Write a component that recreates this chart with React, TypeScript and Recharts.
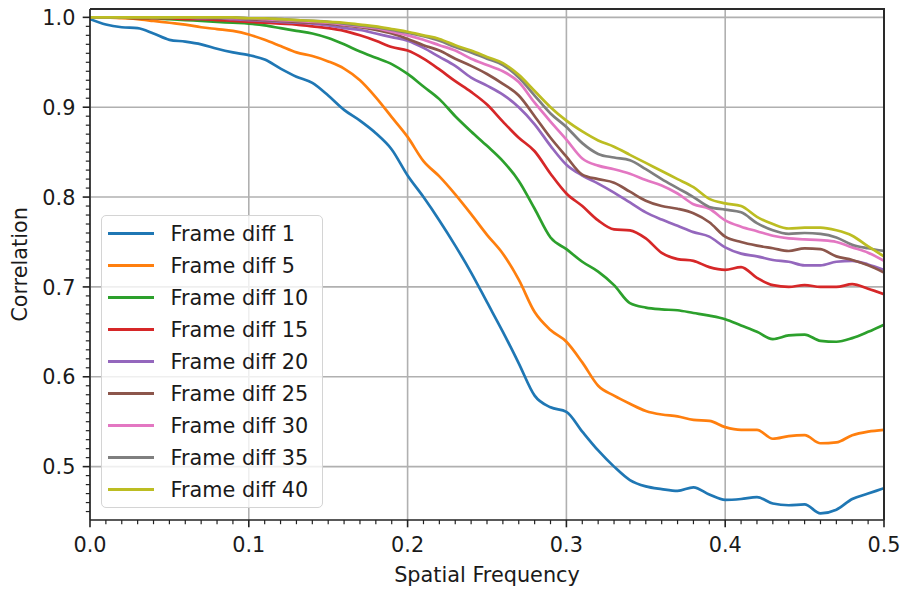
import React from 'react'
import { LineChart, Line, XAxis, YAxis, CartesianGrid, Legend, ReferenceLine } from 'recharts'

const freq = [
    0.0, 0.01, 0.02, 0.03, 0.04, 0.05, 0.06, 0.07, 0.08, 0.09,
    0.1, 0.11, 0.12, 0.13, 0.14, 0.15, 0.16, 0.17, 0.18, 0.19,
    0.2, 0.21, 0.22, 0.23, 0.24, 0.25, 0.26, 0.27, 0.28, 0.29,
    0.3, 0.31, 0.32, 0.33, 0.34, 0.35, 0.36, 0.37, 0.38, 0.39,
    0.4, 0.41, 0.42, 0.43, 0.44, 0.45, 0.46, 0.47, 0.48, 0.49, 0.5
]

const diff1 = [
    0.998, 0.992, 0.989, 0.988, 0.982, 0.975, 0.973, 0.970, 0.965, 0.961,
    0.958, 0.953, 0.943, 0.934, 0.927, 0.913, 0.897, 0.885, 0.871, 0.853,
    0.824, 0.800, 0.774, 0.746, 0.716, 0.683, 0.650, 0.615, 0.579, 0.566,
    0.561, 0.539, 0.518, 0.500, 0.485, 0.478, 0.475, 0.473, 0.477, 0.469,
    0.463, 0.464, 0.466, 0.459, 0.457, 0.458, 0.448, 0.452, 0.464, 0.470, 0.476
]
const diff5 = [
    1.000, 1.000, 0.999, 0.998, 0.996, 0.994, 0.992, 0.989, 0.987, 0.985,
    0.981, 0.975, 0.968, 0.961, 0.957, 0.951, 0.943, 0.930, 0.911, 0.889,
    0.867, 0.840, 0.823, 0.803, 0.781, 0.758, 0.737, 0.708, 0.672, 0.652,
    0.639, 0.616, 0.590, 0.579, 0.570, 0.562, 0.558, 0.556, 0.552, 0.551,
    0.544, 0.541, 0.541, 0.531, 0.534, 0.535, 0.526, 0.527, 0.535, 0.539, 0.541
]
const diff10 = [
    1.000, 1.000, 1.000, 0.999, 0.999, 0.998, 0.997, 0.996, 0.995, 0.994,
    0.993, 0.991, 0.988, 0.985, 0.982, 0.977, 0.970, 0.962, 0.955, 0.948,
    0.937, 0.923, 0.909, 0.890, 0.873, 0.857, 0.840, 0.818, 0.787, 0.755,
    0.742, 0.728, 0.717, 0.702, 0.682, 0.677, 0.675, 0.674, 0.671, 0.668,
    0.664, 0.657, 0.650, 0.642, 0.646, 0.647, 0.640, 0.639, 0.643, 0.650, 0.658
]
const diff15 = [
    1.000, 1.000, 1.000, 0.999, 0.999, 0.999, 0.998, 0.998, 0.997, 0.996,
    0.995, 0.994, 0.993, 0.992, 0.990, 0.988, 0.985, 0.980, 0.974, 0.967,
    0.963, 0.954, 0.942, 0.929, 0.917, 0.903, 0.884, 0.866, 0.851, 0.826,
    0.804, 0.790, 0.774, 0.764, 0.763, 0.754, 0.738, 0.731, 0.729, 0.722,
    0.719, 0.722, 0.710, 0.702, 0.700, 0.702, 0.700, 0.700, 0.703, 0.698, 0.692
]
const diff20 = [
    1.000, 1.000, 1.000, 1.000, 1.000, 1.000, 1.000, 0.999, 0.999, 0.998,
    0.997, 0.996, 0.995, 0.994, 0.993, 0.991, 0.988, 0.986, 0.982, 0.978,
    0.974, 0.966, 0.956, 0.946, 0.933, 0.924, 0.914, 0.900, 0.881, 0.857,
    0.836, 0.824, 0.815, 0.805, 0.794, 0.783, 0.775, 0.768, 0.761, 0.756,
    0.744, 0.737, 0.734, 0.730, 0.728, 0.724, 0.724, 0.728, 0.729, 0.725, 0.719
]
const diff25 = [
    1.000, 1.000, 1.000, 1.000, 1.000, 1.000, 1.000, 1.000, 0.999, 0.999,
    0.998, 0.997, 0.996, 0.995, 0.994, 0.993, 0.991, 0.989, 0.986, 0.982,
    0.976, 0.969, 0.963, 0.954, 0.946, 0.937, 0.926, 0.913, 0.890, 0.866,
    0.845, 0.825, 0.820, 0.816, 0.806, 0.796, 0.790, 0.787, 0.782, 0.772,
    0.756, 0.750, 0.746, 0.743, 0.740, 0.743, 0.742, 0.734, 0.730, 0.724, 0.716
]
const diff30 = [
    1.000, 1.000, 1.000, 1.000, 1.000, 1.000, 1.000, 1.000, 1.000, 0.999,
    0.999, 0.998, 0.997, 0.996, 0.995, 0.994, 0.992, 0.990, 0.988, 0.984,
    0.980, 0.975, 0.969, 0.963, 0.954, 0.947, 0.940, 0.928, 0.905, 0.884,
    0.864, 0.843, 0.835, 0.831, 0.826, 0.819, 0.813, 0.804, 0.792, 0.787,
    0.774, 0.767, 0.762, 0.757, 0.754, 0.753, 0.752, 0.750, 0.744, 0.738, 0.729
]
const diff35 = [
    1.000, 1.000, 1.000, 1.000, 1.000, 1.000, 1.000, 1.000, 1.000, 1.000,
    0.999, 0.999, 0.998, 0.997, 0.996, 0.995, 0.993, 0.991, 0.989, 0.986,
    0.983, 0.979, 0.974, 0.967, 0.961, 0.954, 0.947, 0.933, 0.913, 0.893,
    0.878, 0.860, 0.848, 0.844, 0.841, 0.831, 0.820, 0.810, 0.800, 0.789,
    0.786, 0.783, 0.771, 0.763, 0.759, 0.760, 0.759, 0.755, 0.747, 0.743, 0.740
]
const diff40 = [
    1.000, 1.000, 1.000, 1.000, 1.000, 1.000, 1.000, 1.000, 1.000, 1.000,
    0.999, 0.999, 0.998, 0.997, 0.996, 0.995, 0.994, 0.992, 0.990, 0.987,
    0.984, 0.980, 0.976, 0.969, 0.963, 0.956, 0.949, 0.936, 0.918, 0.900,
    0.885, 0.873, 0.863, 0.856, 0.847, 0.838, 0.829, 0.820, 0.811, 0.798,
    0.793, 0.790, 0.778, 0.770, 0.765, 0.766, 0.766, 0.763, 0.757, 0.745, 0.734
]

const seriesNames = [
    'Frame diff 1', 'Frame diff 5', 'Frame diff 10', 'Frame diff 15', 'Frame diff 20',
    'Frame diff 25', 'Frame diff 30', 'Frame diff 35', 'Frame diff 40'
]
const seriesValues = [diff1, diff5, diff10, diff15, diff20, diff25, diff30, diff35, diff40]
const seriesColors = [
    '#1f77b4', '#ff7f0e', '#2ca02c', '#d62728', '#9467bd',
    '#8c564b', '#e377c2', '#7f7f7f', '#bcbd22'
]

const xMajorTicks = [0, 0.1, 0.2, 0.3, 0.4, 0.5]
const yMajorTicks = [0.5, 0.6, 0.7, 0.8, 0.9, 1.0]
const xDomain = [0, 0.5]
const yDomain = [0.4406, 1.0093]

// minor ticks every 0.01
const xTicks = Array.from({ length: 51 }, (_, i) => i / 100)
const yTicks = Array.from({ length: 56 }, (_, i) => (45 + i) / 100)

const data = freq.map((f, i) => {
    const row: Record<string, number> = { freq: f }
    seriesNames.forEach((name, k) => { row[name] = seriesValues[k][i] })
    return row
})

const FONT = '"DejaVu Sans", sans-serif'
const TEXT = '#1a1a1a'
const AXIS = '#222'
const isMajor = (v: number) => Math.round(v * 100) % 10 === 0

const XTick = (props: any) => {
    const { x, y, payload } = props
    const major = isMajor(payload.value)
    return (
        <g>
            <line x1={x} x2={x} y1={y} y2={y + (major ? 7.3 : 4.2)} stroke={AXIS} strokeWidth={major ? 1.6 : 1.2} />
            {major && (
                <text x={x} y={y + 32} textAnchor="middle" fontSize={20.8} fontFamily={FONT} fill={TEXT}>
                    {payload.value.toFixed(1)}
                </text>
            )}
        </g>
    )
}

const YTick = (props: any) => {
    const { x, y, payload } = props
    const major = isMajor(payload.value)
    return (
        <g>
            <line x1={x - (major ? 7.3 : 4.2)} x2={x} y1={y} y2={y} stroke={AXIS} strokeWidth={major ? 1.6 : 1.2} />
            {major && (
                <text x={x - 14.6} y={y + 7.6} textAnchor="end" fontSize={20.8} fontFamily={FONT} fill={TEXT}>
                    {payload.value.toFixed(1)}
                </text>
            )}
        </g>
    )
}

const renderLegend = () => (
    <div
        style={{
            width: 222,
            height: 293,
            boxSizing: 'border-box',
            border: '1.5px solid #d4d4d4',
            borderRadius: 5,
            background: 'rgba(255,255,255,0.8)',
            paddingTop: 1.5
        }}
    >
        {seriesNames.map((name, i) => (
            <div key={name} style={{ display: 'flex', alignItems: 'center', height: 32 }}>
                <span style={{ display: 'inline-block', marginLeft: 5.5, width: 46, height: 3, background: seriesColors[i] }} />
                <span style={{ marginLeft: 17, fontFamily: FONT, fontSize: 20.8, color: TEXT, lineHeight: '32px', whiteSpace: 'nowrap' }}>
                    {name}
                </span>
            </div>
        ))}
    </div>
)

const App = () => {
    return (
        <div style={{ position: 'absolute', left: 0, top: 0, width: 904, height: 590, background: '#fff' }}>
            <LineChart width={904} height={590} data={data} margin={{ top: 9, right: 20, left: 0, bottom: 8 }}>
                <CartesianGrid
                    verticalValues={xMajorTicks}
                    horizontalValues={yMajorTicks}
                    stroke="#b0b0b0"
                    strokeWidth={1.6}
                />
                <XAxis
                    dataKey="freq"
                    type="number"
                    domain={xDomain}
                    ticks={xTicks}
                    interval={0}
                    height={62}
                    tickSize={0}
                    tickMargin={0}
                    tickLine={false}
                    tick={(p: any) => <XTick {...p} />}
                    stroke={AXIS}
                    strokeWidth={1.6}
                    allowDataOverflow
                    label={{
                        value: 'Spatial Frequency',
                        position: 'insideBottom',
                        offset: 0,
                        style: { fontFamily: FONT, fontSize: 20.8, fill: TEXT }
                    }}
                />
                <YAxis
                    type="number"
                    domain={yDomain}
                    ticks={yTicks}
                    interval={0}
                    width={90}
                    tickSize={0}
                    tickMargin={0}
                    tickLine={false}
                    tick={(p: any) => <YTick {...p} />}
                    stroke={AXIS}
                    strokeWidth={1.6}
                    allowDataOverflow
                    label={{
                        value: 'Correlation',
                        angle: -90,
                        position: 'insideLeft',
                        offset: 20,
                        style: { fontFamily: FONT, fontSize: 20.8, fill: TEXT, textAnchor: 'middle' }
                    }}
                />
                {seriesNames.map((name, i) => (
                    <Line
                        key={name}
                        type="monotone"
                        dataKey={name}
                        stroke={seriesColors[i]}
                        strokeWidth={2.7}
                        dot={false}
                        isAnimationActive={false}
                    />
                ))}
                {/* top and right spines */}
                <ReferenceLine y={yDomain[1]} stroke={AXIS} strokeWidth={1.8} ifOverflow="visible" />
                <ReferenceLine x={xDomain[1]} stroke={AXIS} strokeWidth={1.8} ifOverflow="visible" />
                <Legend
                    layout="vertical"
                    align="center"
                    verticalAlign="middle"
                    content={renderLegend}
                    wrapperStyle={{ left: 101, top: 215, width: 222, height: 293 }}
                />
            </LineChart>
            <div
                style={{
                    position: 'absolute',
                    zIndex: 5,
                    left: 90,
                    top: 8,
                    width: 795,
                    height: 512,
                    boxSizing: 'border-box',
                    borderTop: '2px solid #2a2a2a',
                    borderRight: '2px solid #2a2a2a',
                    pointerEvents: 'none'
                }}
            />
        </div>
    )
}

export default App
